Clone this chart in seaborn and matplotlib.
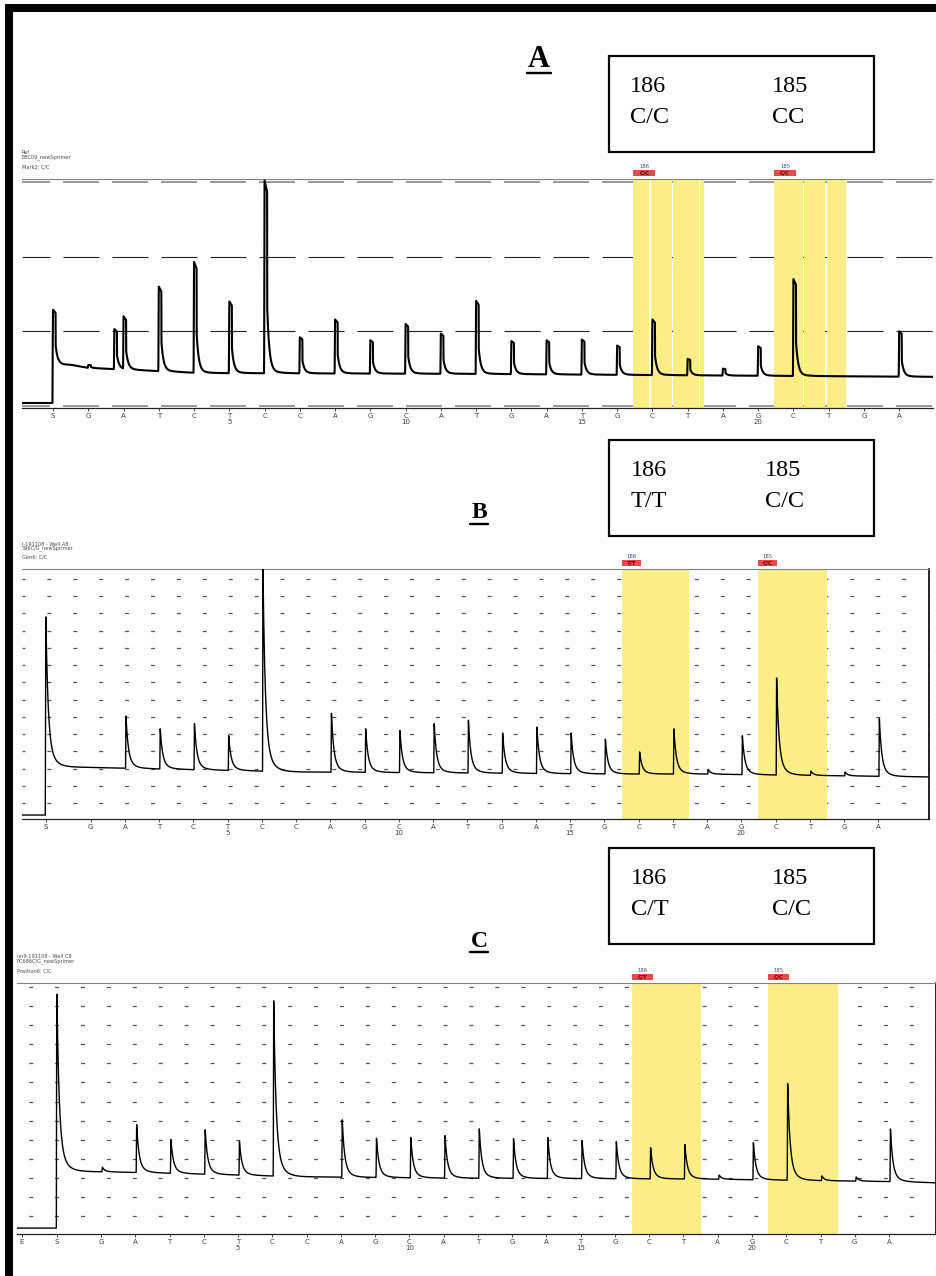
import numpy as np
import pandas as pd
import matplotlib
matplotlib.use("Agg")
import matplotlib.pyplot as plt
import matplotlib.transforms as mtransforms
from matplotlib.patches import Rectangle
from matplotlib.lines import Line2D
import seaborn as sns

sns.set_theme(style="white")
plt.rcParams['font.family'] = ['DejaVu Sans']
plt.rcParams['lines.scale_dashes'] = False

# ------------------------------------------------------------------ data
DISPENSATION = list("GATCTCCAGCATGATGCTAGCTGA")          # dispensations 1..24
DISP_NUMBERS = {5: "5", 10: "10", 15: "15", 20: "20"}

# Panel A (signal units: dashed grid levels 0..3)
A_PRE = 0.04
A_S_POS = 0.0
A_S_TOP = 1.29
A_BASE_X = [0.0, 0.5, 1.0, 4.2, 11.8, 18.3, 25.0]
A_BASE_Y = [0.55, 0.55, 0.51, 0.44, 0.43, 0.41, 0.39]
A_TOPS = [0.55, 1.19, 1.60, 1.93, 1.40, 3.02, 0.92, 1.16, 0.88, 1.10, 0.97, 1.41,
          0.87, 0.88, 0.89, 0.81, 1.16, 0.63, 0.50, 0.80, 1.70, None, None, 1.00]
A_EXTRA_X = [1.74]
A_EXTRA_TOP = [1.03]
A_HL = [[(16.46, 16.91), (16.95, 17.55), (17.59, 18.31), (18.35, 18.47)],
        [(20.45, 21.26), (21.30, 21.90), (21.94, 22.48)]]
A_CALLS = ["C/C", "C/C"]
A_BOX = [("186", "C/C"), ("185", "CC")]
A_HEADER = ["Ref", "EBC09_newSprimer", "Mark2: C/C"]

# Panel B (signal units: dotted grid rows 0..13)
B_PRE = -0.70
B_S_POS = -0.31
B_S_TOP = 10.8
B_BASE_X = [-0.31, 0.8, 7.1, 12.1, 16.5, 18.8, 23.2, 25.5]
B_BASE_Y = [2.10, 2.07, 1.80, 1.74, 1.68, 1.68, 1.57, 1.51]
B_TOPS = [None, 5.05, 4.30, 4.60, 3.90, 13.6, None, 5.20, 4.30, 4.20, 4.60, 4.80,
          4.06, 4.40, 4.06, 3.70, 2.96, 4.30, 1.95, 3.90, 7.25, 1.85, 1.80, 4.90]
B_HL = [[(16.52, 18.48)], [(20.49, 22.50)]]
B_CALLS = ["T/T", "C/C"]
B_BOX = [("186", "T/T"), ("185", "C/C")]
B_HEADER = ["I-191108 - Well A8", "396C/G_newSprimer", "Gen6: C/C"]

# Panel C (signal units: dotted grid rows 0..12)
C_PRE = -0.63
C_E_POS = -1.31
C_S_POS = -0.29
C_S_TOP = 12.0
C_BASE_X = [-0.29, 0.97, 2.4, 6.8, 10.9, 18.5, 24.3, 25.4]
C_BASE_Y = [2.35, 2.32, 2.27, 2.06, 1.99, 1.94, 1.80, 1.74]
C_TOPS = [2.56, 4.82, 4.03, 4.55, 3.93, 11.4, None, 5.08, 4.10, 4.14, 4.24, 4.60,
          4.08, 4.14, 3.98, 3.93, 3.60, 3.77, 2.15, 3.87, 7.00, 2.10, 2.05, 4.60]
C_HL = [[(16.51, 18.50)], [(20.47, 22.50)]]
C_CALLS = ["C/T", "C/C"]
C_BOX = [("186", "C/T"), ("185", "C/C")]
C_HEADER = ["un9-191108 - Well C8", "PC686C/G_newSprimer", "Position6: C/C"]

LOCI = ["186", "185"]
PANEL_LETTERS = ["A", "B", "C"]

# ------------------------------------------------------------------ style
W, H, DPI = 937, 1276, 100
YELLOW = "#fbee86"
RED = "#e8494a"
PT = 72.0 / DPI   # points per pixel

fig = plt.figure(figsize=(W / DPI, H / DPI), dpi=DPI)
fig.patch.set_facecolor("white")


def fx(px):
    return px / W


def fy(py):
    return 1 - py / H


def px_rect(left, top, right, bottom):
    return [fx(left), fy(bottom), (right - left) / W, (bottom - top) / H]


def shape(d, kind):
    out = np.zeros_like(d)
    rise = (d >= -0.012) & (d < 0)
    out[rise] = (d[rise] + 0.012) / 0.012
    if kind == "A":
        hold = (d >= 0) & (d < 0.075)
        out[hold] = 1 - 0.8 * d[hold]
        tail = d >= 0.075
        dd = d[tail] - 0.075
        out[tail] = 0.33 * np.exp(-dd / 0.06) + 0.02 * np.exp(-dd / 0.25)
    else:
        tail = d >= 0
        out[tail] = 0.8 * np.exp(-d[tail] / 0.065) + 0.2 * np.exp(-d[tail] / 0.18)
    return out


def build_trace(xlim, pre, s_pos, s_top, bx, by, peak_x, peak_top, kind, offset):
    x = np.arange(xlim[0], xlim[1], 0.004)
    base = np.interp(x, bx, by)
    y = np.where(x < s_pos - 0.012, pre, base)
    y = y + (s_top - np.interp(s_pos, bx, by)) * shape(x - s_pos, kind)
    for p, t in zip(peak_x, peak_top):
        if t is None:
            continue
        h = t - np.interp(p, bx, by)
        if h > 0:
            y = y + h * shape(x - p - offset, kind)
    return pd.DataFrame({"x": x, "y": y})


def draw_panel(rect, xlim, ylim, tick_pos, tick_lab, trace, lw, kind, grid_levels,
               hl, calls, label_w_px, right_spine):
    ax = fig.add_axes(px_rect(*rect))
    ax.set_xlim(*xlim)
    ax.set_ylim(*ylim)
    ax.set_facecolor("white")
    ax_h_px = rect[3] - rect[1]
    ax_w_px = rect[2] - rect[0]
    upx = (xlim[1] - xlim[0]) / ax_w_px   # data units per pixel

    # grid
    if kind == "A":
        for lev in grid_levels:
            edge = lev in (grid_levels[0], grid_levels[-1])
            ax.axhline(lev, color="#9a9a9a" if edge else "#222222",
                       lw=2.0 * PT if edge else 0.8,
                       ls=(8 * PT, (36 * PT, 13 * PT)), zorder=0.5)
    else:
        off = grid_levels[1]
        for lev in grid_levels[0]:
            ax.axhline(lev, color="#555555", lw=0.9,
                       ls=(off * PT, (4 * PT, 21.9 * PT)), zorder=0.5)

    # highlighted regions
    for group in hl:
        for a, b in group:
            ax.axvspan(a, b, color=YELLOW, lw=0, zorder=1)

    # trace
    sns.lineplot(data=trace, x="x", y="y", ax=ax, color="black", lw=lw,
                 estimator=None, sort=False, errorbar=None, legend=False, zorder=3)

    # red genotype labels above the regions
    trans = mtransforms.blended_transform_factory(ax.transData, ax.transAxes)
    for group, call, loc in zip(hl, calls, LOCI):
        x0 = group[0][0]
        y0 = 1 + 3 / ax_h_px
        hh = 6.5 / ax_h_px
        ww = label_w_px * upx
        ax.add_patch(Rectangle((x0, y0), ww, hh, transform=trans, clip_on=False,
                               facecolor=RED, edgecolor="none", zorder=5))
        ax.text(x0 + ww / 2, y0 + hh / 2, call, transform=trans, ha="center",
                va="center", fontsize=4, color="#6a0000", fontweight="bold",
                clip_on=False, zorder=6)
        ax.text(x0 + ww / 2, y0 + hh + 1 / ax_h_px, loc, transform=trans, ha="center",
                va="bottom", fontsize=3.8, color="#3a4a7a", clip_on=False, zorder=6)

    # axes styling
    for s in ax.spines.values():
        s.set_visible(False)
    ax.spines["top"].set_visible(True)
    ax.spines["top"].set_color("#808080")
    ax.spines["top"].set_linewidth(0.8)
    ax.spines["bottom"].set_visible(True)
    ax.spines["bottom"].set_color("#222222")
    ax.spines["bottom"].set_linewidth(0.9)
    if right_spine:
        ax.spines["right"].set_visible(True)
        ax.spines["right"].set_color("black")
        ax.spines["right"].set_linewidth(1.2)
    ax.set_xticks(tick_pos)
    ax.set_xticklabels(tick_lab, fontsize=5, color="#3b3b55", linespacing=1.0)
    ax.tick_params(axis="x", bottom=True, length=2.5, width=0.6, pad=1,
                   color="#333333", direction="out")
    ax.tick_params(axis="y", left=False, labelleft=False)
    ax.set_yticks([])
    ax.set_xlabel("")
    ax.set_ylabel("")
    return ax


def labels_for(prefix):
    labs = list(prefix)
    for i, d in enumerate(DISPENSATION, start=1):
        labs.append(d + ("\n" + DISP_NUMBERS[i] if i in DISP_NUMBERS else ""))
    return labs


disp_pos = list(range(1, len(DISPENSATION) + 1))

# ---- Panel A
xlimA = (-0.879, 24.96)
peaksA_x = disp_pos + A_EXTRA_X
peaksA_t = A_TOPS + A_EXTRA_TOP
trA = build_trace(xlimA, A_PRE, A_S_POS, A_S_TOP, A_BASE_X, A_BASE_Y,
                  peaksA_x, peaksA_t, "A", 0.0)
draw_panel((22, 179, 933, 408), xlimA, (-0.027, 3.04), [A_S_POS] + disp_pos,
           labels_for(["S"]), trA, 1.5, "A", [0, 1, 2, 3], A_HL, A_CALLS, 22, False)

# ---- Panel B
xlimB = (-1.006, 25.48)
trB = build_trace(xlimB, B_PRE, B_S_POS, B_S_TOP, B_BASE_X, B_BASE_Y,
                  disp_pos, B_TOPS, "B", 0.03)
draw_panel((22, 569, 929, 819), xlimB, (-0.93, 13.58), [B_S_POS] + disp_pos,
           labels_for(["S"]), trB, 1.0, "B", (list(range(0, 14)), 1.0), B_HL, B_CALLS,
           19, True)

# ---- Panel C
xlimC = (-1.451, 25.37)
trC = build_trace(xlimC, C_PRE, C_S_POS, C_S_TOP, C_BASE_X, C_BASE_Y,
                  disp_pos, C_TOPS, "C", 0.04)
draw_panel((17, 983, 936, 1234), xlimC, (-0.94, 12.21), [C_E_POS, C_S_POS] + disp_pos,
           labels_for(["E", "S"]), trC, 1.0, "C", (list(range(0, 13)), 14.2), C_HL,
           C_CALLS, 21, True)

# ---- headers (small instrument text)
for lines, x0, ys in [(A_HEADER, 22, [153, 157.5, 167]),
                      (B_HEADER, 22, [544, 548.5, 557]),
                      (C_HEADER, 17, [957, 961.5, 971])]:
    for t, yy in zip(lines, ys):
        fig.text(fx(x0), fy(yy), t, fontsize=3.6, color="#4a4a4a", ha="left", va="center")

# ---- panel letters with underline
for letter, (cx, base, x0, x1, uy, fs) in zip(
        PANEL_LETTERS,
        [(539, 67, 527, 551, 73, 22), (479, 518, 470, 488, 523.5, 17),
         (479, 947, 470, 488, 952, 17)]):
    fig.text(fx(cx), fy(base), letter, fontsize=fs, fontweight="bold",
             family="Liberation Serif", ha="center", va="baseline", color="black")
    fig.add_artist(Line2D([fx(x0), fx(x1)], [fy(uy), fy(uy)], color="black",
                          lw=2.4 * PT, transform=fig.transFigure))

# ---- genotype boxes
for box, (top, bottom, xl, xr) in zip(
        [A_BOX, B_BOX, C_BOX],
        [(56, 152, 630, 772), (440, 536, 631, 765), (848, 944, 631, 772)]):
    fig.add_artist(Rectangle((fx(609), fy(bottom)), (874 - 609) / W, (bottom - top) / H,
                             transform=fig.transFigure, facecolor="white",
                             edgecolor="black", lw=2.2 * PT))
    for (loc, call), xx in zip(box, [xl, xr]):
        fig.text(fx(xx), fy(top + 36), loc, fontsize=17.5, family="Liberation Serif",
                 ha="left", va="baseline", color="black")
        fig.text(fx(xx), fy(top + 67), call, fontsize=17.5, family="Liberation Serif",
                 ha="left", va="baseline", color="black")

# ---- page borders
fig.add_artist(Rectangle((fx(5), 0), 8.5 / W, fy(4), transform=fig.transFigure,
                         facecolor="black", edgecolor="none"))
fig.add_artist(Rectangle((fx(5), fy(11.5)), (W - 5) / W, 7.5 / H,
                         transform=fig.transFigure, facecolor="black", edgecolor="none"))

fig.savefig("out.png", dpi=DPI, facecolor="white")
